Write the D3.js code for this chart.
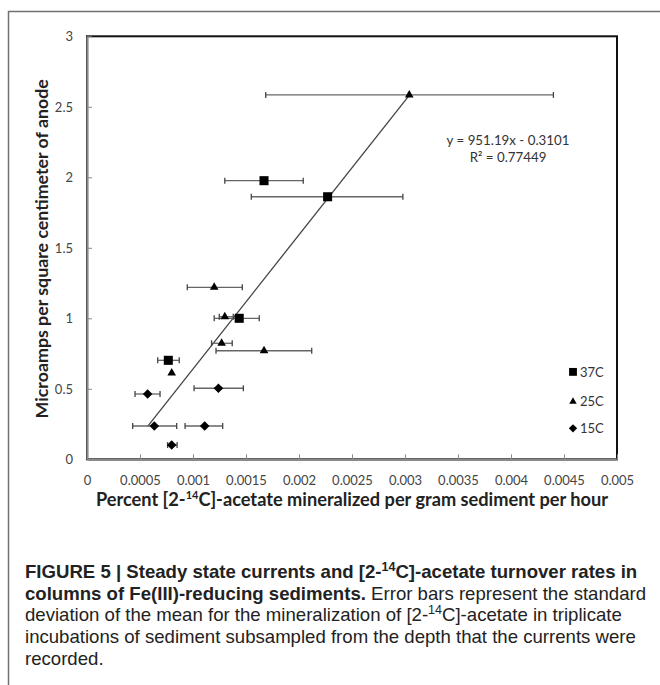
<!DOCTYPE html>
<html>
<head>
<meta charset="utf-8">
<script src="https://cdn.jsdelivr.net/npm/d3@7/dist/d3.min.js"></script>
<style>
  html, body { margin: 0; padding: 0; background: #fff; }
  svg { display: block; }
</style>
</head>
<body>
<svg id="chart" width="660" height="685"></svg>
<script>
// ---------- data ----------
const seriesNames = ["37C", "25C", "15C"];

const x37 = [0.00167, 0.00227, 0.001436, 0.000767];
const y37 = [1.976, 1.862, 1.0, 0.702];
const xLo37 = [0.0013, 0.00155, 0.0012, 0.000667];
const xHi37 = [0.00204, 0.00298, 0.001625, 0.00087];

const x25 = [0.00304, 0.0012, 0.0013, 0.00127, 0.00167, 0.000799];
const y25 = [2.584, 1.22, 1.011, 0.823, 0.77, 0.612];
const xLo25 = [0.001686, 0.000946, 0.001248, 0.001175, 0.001217, null];
const xHi25 = [0.0044, 0.001465, 0.00138, 0.00137, 0.00212, null];

const x15 = [0.00124, 0.000572, 0.000635, 0.00111, 0.000799];
const y15 = [0.504, 0.463, 0.236, 0.236, 0.101];
const xLo15 = [0.00101, 0.000453, 0.000431, 0.000925, 0.00076];
const xHi15 = [0.001475, 0.000689, 0.000846, 0.00128, 0.00085];

const xTicks = [0, 0.0005, 0.001, 0.0015, 0.002, 0.0025, 0.003, 0.0035, 0.004, 0.0045, 0.005];
const yTicks = [0, 0.5, 1, 1.5, 2, 2.5, 3];

const trendSlope = 951.19;
const trendIntercept = -0.3101;
const trendLabel1 = "y = 951.19x - 0.3101";
const trendLabel2 = "R² = 0.77449";

// ---------- layout ----------
const svg = d3.select("#chart");
const chartFont = "Lato, 'Open Sans', sans-serif";
const capFont = "'Liberation Sans', Arial, sans-serif";

const x = d3.scaleLinear().domain([0, 0.005]).range([87, 617]);
const y = d3.scaleLinear().domain([0, 3]).range([459.3, 36.3]);

// outer figure frame (top and left visible)
svg.append("path")
  .attr("d", "M8.5,690 L8.5,11.5 L665,11.5")
  .attr("fill", "none").attr("stroke", "#707070").attr("stroke-width", 1.5);

// plot box
svg.append("rect")
  .attr("x", x(0)).attr("y", y(3))
  .attr("width", x(0.005) - x(0)).attr("height", y(0) - y(3))
  .attr("fill", "none").attr("stroke", "#111").attr("stroke-width", 2);

// axes
const xAxis = d3.axisBottom(x).tickValues(xTicks).tickSizeInner(-5).tickSizeOuter(0)
  .tickFormat(d => d3.format("")(+d.toFixed(4)));
const gx = svg.append("g").attr("transform", `translate(0,${y(0)})`).call(xAxis);
gx.select(".domain").attr("stroke", "#8a8a8a").attr("stroke-width", 2.2);
gx.selectAll(".tick line").attr("stroke", "#8a8a8a").attr("stroke-width", 1);
gx.selectAll(".tick text").attr("dy", null).attr("y", 26)
  .attr("font-family", chartFont).attr("font-size", 13).attr("fill", "#444");

const yAxis = d3.axisLeft(y).tickValues(yTicks).tickSizeInner(-5).tickSizeOuter(0)
  .tickFormat(d => String(d));
const gy = svg.append("g").attr("transform", `translate(${x(0)},0)`).call(yAxis);
gy.select(".domain").attr("stroke", "#8a8a8a").attr("stroke-width", 2.2);
gy.selectAll(".tick line").attr("stroke", "#8a8a8a").attr("stroke-width", 1);
gy.selectAll(".tick text").attr("x", -14).attr("dy", "0.34em")
  .attr("font-family", chartFont).attr("font-size", 13).attr("fill", "#444");
svg.selectAll(".tick").filter(d => d === 0).select("line").remove();

// trendline
const allX = [...x37, ...x25, ...x15];
const tx0 = d3.min(allX), tx1 = d3.max(allX);
svg.append("line")
  .attr("x1", x(tx0)).attr("y1", y(trendSlope * tx0 + trendIntercept))
  .attr("x2", x(tx1)).attr("y2", y(trendSlope * tx1 + trendIntercept))
  .attr("stroke", "#444").attr("stroke-width", 1.3);

// series
const series = [
  { name: seriesNames[0], xs: x37, ys: y37, lo: xLo37, hi: xHi37, sym: d3.symbolSquare, size: 82, rot: 0 },
  { name: seriesNames[1], xs: x25, ys: y25, lo: xLo25, hi: xHi25, sym: d3.symbolTriangle, size: 32, rot: 0 },
  { name: seriesNames[2], xs: x15, ys: y15, lo: xLo15, hi: xHi15, sym: d3.symbolSquare, size: 46, rot: 45 }
];

const errG = svg.append("g");
const markG = svg.append("g");
series.forEach(s => {
  s.xs.forEach((xv, i) => {
    const yv = s.ys[i];
    if (s.lo[i] != null) {
      const yy = y(yv);
      errG.append("line").attr("x1", x(s.lo[i])).attr("x2", x(s.hi[i]))
        .attr("y1", yy).attr("y2", yy).attr("stroke", "#666").attr("stroke-width", 1.3);
      [s.lo[i], s.hi[i]].forEach(e => {
        errG.append("line").attr("x1", x(e)).attr("x2", x(e))
          .attr("y1", yy - 3).attr("y2", yy + 3).attr("stroke", "#444").attr("stroke-width", 1.3);
      });
    }
    markG.append("path")
      .attr("d", d3.symbol().type(s.sym).size(s.size)())
      .attr("transform", `translate(${x(xv)},${y(yv)}) rotate(${s.rot})`)
      .attr("fill", "#000");
  });
});

// legend
const legY = [0.62, 0.41, 0.22];
series.forEach((s, i) => {
  const ly = y(legY[i]);
  svg.append("path")
    .attr("d", d3.symbol().type(s.sym).size(s.size * 0.75)())
    .attr("transform", `translate(573,${ly}) rotate(${s.rot})`).attr("fill", "#000");
  svg.append("text").attr("x", 580).attr("y", ly).attr("dy", "0.38em")
    .attr("font-family", chartFont).attr("font-size", 13).attr("fill", "#333")
    .text(s.name);
});

// trend equation
svg.append("text").attr("x", 508).attr("y", 145).attr("text-anchor", "middle")
  .attr("font-family", chartFont).attr("font-size", 13.3).attr("fill", "#333").text(trendLabel1);
svg.append("text").attr("x", 508).attr("y", 161.5).attr("text-anchor", "middle")
  .attr("font-family", chartFont).attr("font-size", 13.3).attr("fill", "#333").text(trendLabel2);

// axis titles
svg.append("text")
  .attr("transform", `translate(48,${(y(0) + y(3)) / 2 + 1}) rotate(-90)`)
  .attr("text-anchor", "middle").attr("font-family", chartFont).attr("font-weight", "bold")
  .attr("font-size", 17.8).attr("fill", "#222")
  .text("Microamps per square centimeter of anode");

const xt = svg.append("text").attr("x", 352).attr("y", 506).attr("text-anchor", "middle")
  .attr("font-family", chartFont).attr("font-weight", "bold").attr("font-size", 18.2).attr("fill", "#222");
xt.append("tspan").text("Percent [2-");
xt.append("tspan").attr("dy", -7).attr("font-size", 11).text("14");
xt.append("tspan").attr("dy", 7).text("C]-acetate mineralized per gram sediment per hour");

// caption
const lines = [
  [["b", "FIGURE 5 | Steady state currents and [2-"], ["bs", "14"], ["b", "C]-acetate turnover rates in"]],
  [["b", "columns of Fe(III)-reducing sediments."], ["n", " Error bars represent the standard"]],
  [["n", "deviation of the mean for the mineralization of [2-"], ["s", "14"], ["n", "C]-acetate in triplicate"]],
  [["n", "incubations of sediment subsampled from the depth that the currents were"]],
  [["n", "recorded."]]
];
const baselines = [577.5, 599.5, 621, 643, 664.5];
lines.forEach((ln, li) => {
  const t = svg.append("text").attr("x", 25).attr("y", baselines[li])
    .attr("font-family", capFont).attr("font-size", 18.6).attr("fill", "#222");
  let prevSup = false;
  ln.forEach(([k, str]) => {
    const sp = t.append("tspan").text(str);
    if (k.startsWith("b")) sp.attr("font-weight", "bold");
    if (k.endsWith("s")) { sp.attr("dy", -7).attr("font-size", 12.5); prevSup = true; }
    else if (prevSup) { sp.attr("dy", 7); prevSup = false; }
  });
});
</script>
</body>
</html>
